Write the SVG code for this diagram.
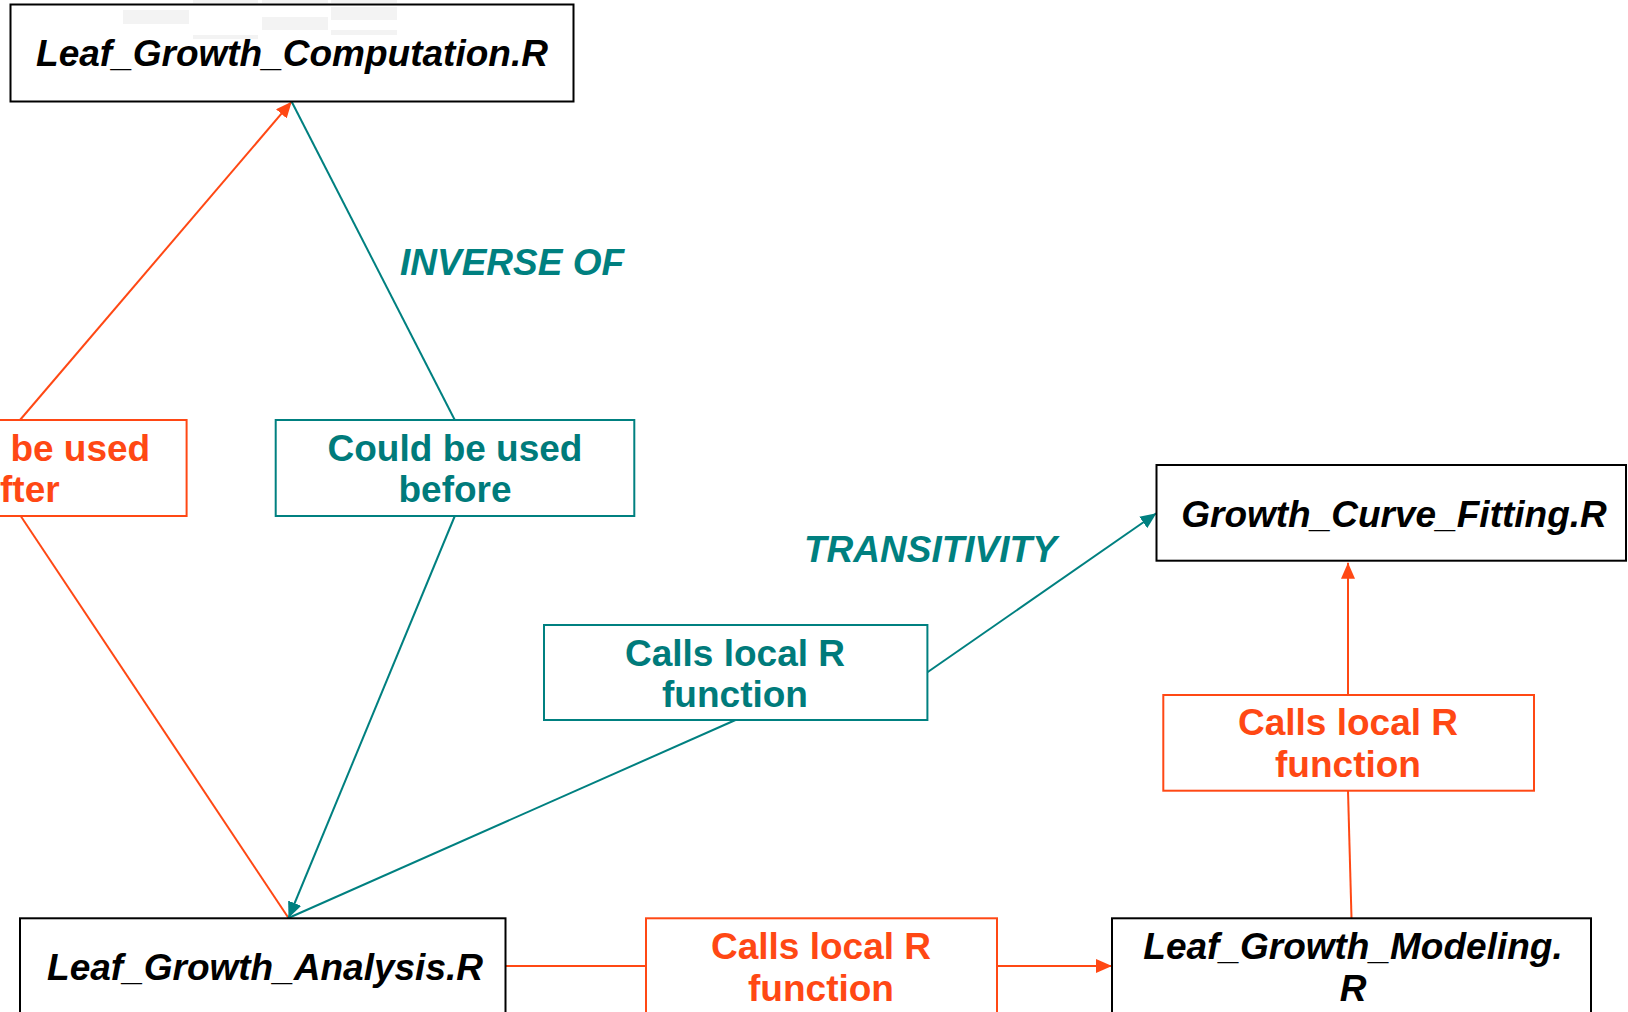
<svg xmlns="http://www.w3.org/2000/svg" width="1628" height="1012" viewBox="0 0 1628 1012">
  <style>
    .box { fill: #ffffff; stroke: #000000; stroke-width: 2; }
    .obox { fill: #ffffff; stroke: #ff4814; stroke-width: 2; }
    .tbox { fill: #ffffff; stroke: #008080; stroke-width: 2; }
    text { font-family: "Liberation Sans", Arial, sans-serif; font-weight: bold; font-size: 37px; }
    .file { fill: #000000; font-style: italic; text-anchor: middle; }
    .olab { fill: #ff4814; text-anchor: middle; }
    .tlab { fill: #007b7b; text-anchor: middle; }
    .rel { fill: #008080; font-style: italic; }
    .oline { stroke: #ff4814; stroke-width: 2; fill: none; }
    .tline { stroke: #008080; stroke-width: 2; fill: none; }
  </style>
  <defs>
    <marker id="arrO" viewBox="0 0 16 14" refX="16" refY="7" markerWidth="16" markerHeight="14" markerUnits="userSpaceOnUse" orient="auto">
      <path d="M0,0 L16,7 L0,14 Z" fill="#ff4814"/>
    </marker>
    <marker id="arrT" viewBox="0 0 16 14" refX="16" refY="7" markerWidth="16" markerHeight="14" markerUnits="userSpaceOnUse" orient="auto">
      <path d="M0,0 L16,7 L0,14 Z" fill="#008080"/>
    </marker>
  </defs>
  <rect width="1628" height="1012" fill="#ffffff"/>

  <!-- connectors -->
  <g id="connectors">
    <line class="oline" x1="20" y1="420" x2="291.7" y2="101.7" marker-end="url(#arrO)"/>
    <line class="oline" x1="20.7" y1="516" x2="288.5" y2="918"/>
    <line class="tline" x1="291.7" y1="101.7" x2="454.8" y2="420"/>
    <line class="tline" x1="454.8" y1="516" x2="288.5" y2="918" marker-end="url(#arrT)"/>
    <line class="tline" x1="735.5" y1="720" x2="288.5" y2="918"/>
    <line class="tline" x1="927.4" y1="672.3" x2="1156.4" y2="513.3" marker-end="url(#arrT)"/>
    <line class="oline" x1="1348" y1="695" x2="1348" y2="562.7" marker-end="url(#arrO)"/>
    <line class="oline" x1="1348" y1="790.7" x2="1351.5" y2="918.3"/>
    <line class="oline" x1="505.5" y1="966" x2="646" y2="966"/>
    <line class="oline" x1="997" y1="966" x2="1112" y2="966" stroke-width="3" marker-end="url(#arrO)"/>
    <text class="rel" x="400" y="275">INVERSE OF</text>
    <text class="rel" x="804" y="561.7">TRANSITIVITY</text>
  </g>

  <g id="leaf-growth-computation">
    <rect class="box" x="10.5" y="4.5" width="563" height="97"/>
    <!-- faint specks along the top of the box -->
    <g fill="#f3f3f3">
      <rect x="123" y="10" width="66" height="14"/>
      <rect x="193" y="0" width="65" height="3"/>
      <rect x="262" y="0" width="66" height="3"/>
      <rect x="262" y="17" width="66" height="13"/>
      <rect x="331" y="0" width="66" height="3"/>
      <rect x="331" y="7" width="66" height="13"/>
      <rect x="331" y="30" width="66" height="5"/>
      <rect x="193" y="35" width="65" height="4"/>
    </g>
    <text class="file" x="292" y="66">Leaf_Growth_Computation.R</text>
  </g>

  <g id="used-after">
    <rect class="obox" x="-180" y="420" width="366.6" height="96"/>
    <text fill="#ff4814" x="10.4" y="461">be used</text>
    <text fill="#ff4814" x="0" y="501.7">fter</text>
  </g>

  <g id="used-before">
    <rect class="tbox" x="275.7" y="420" width="358.6" height="96"/>
    <text class="tlab" x="455" y="461">Could be used</text>
    <text class="tlab" x="455" y="501.7">before</text>
  </g>

  <g id="growth-curve-fitting">
    <rect class="box" x="1156.5" y="465" width="469.5" height="95.7"/>
    <text class="file" x="1394" y="527">Growth_Curve_Fitting.R</text>
  </g>

  <g id="calls-teal">
    <rect class="tbox" x="544" y="625" width="383.4" height="95"/>
    <text class="tlab" x="735" y="665.7">Calls local R</text>
    <text class="tlab" x="735" y="706.7">function</text>
  </g>

  <g id="calls-right">
    <rect class="obox" x="1163.3" y="695" width="370.7" height="95.7"/>
    <text class="olab" x="1348" y="735">Calls local R</text>
    <text class="olab" x="1348" y="776.7">function</text>
  </g>

  <g id="leaf-growth-analysis">
    <rect class="box" x="20" y="918.3" width="485.5" height="120"/>
    <text class="file" x="265" y="980">Leaf_Growth_Analysis.R</text>
  </g>

  <g id="calls-bottom">
    <rect class="obox" x="646" y="918.3" width="351" height="120"/>
    <text class="olab" x="821" y="959">Calls local R</text>
    <text class="olab" x="821" y="1000.7">function</text>
  </g>

  <g id="leaf-growth-modeling">
    <rect class="box" x="1112" y="918.3" width="479" height="120"/>
    <text class="file" x="1353" y="959">Leaf_Growth_Modeling.</text>
    <text class="file" x="1353" y="1000.7">R</text>
  </g>
</svg>
